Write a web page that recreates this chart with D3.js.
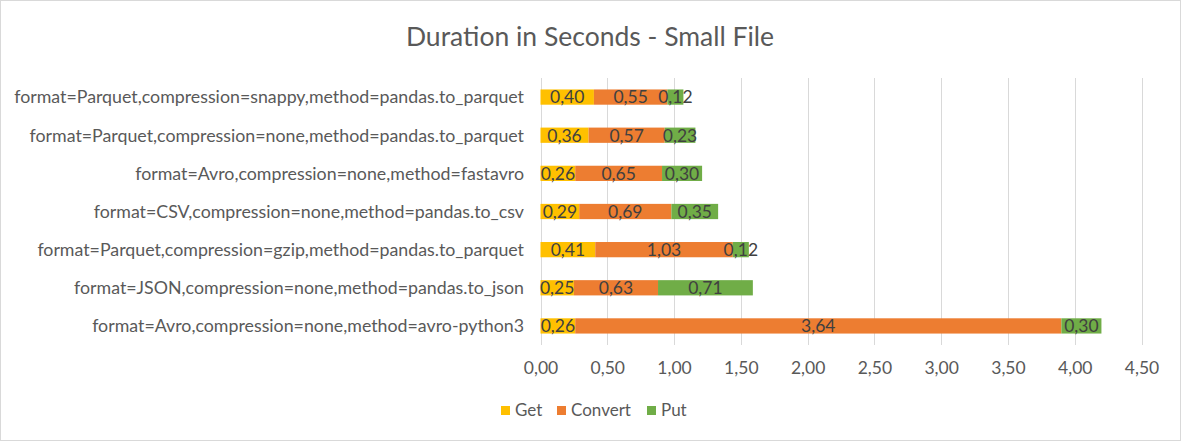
<!DOCTYPE html>
<html><head><meta charset="utf-8">
<script src="https://cdn.jsdelivr.net/npm/d3@7"></script>
<style>html,body{margin:0;padding:0;background:#fff;}svg{display:block;}</style>
</head><body>
<svg id="c" width="1181" height="441"></svg>
<script>
const categories = [
  "format=Parquet,compression=snappy,method=pandas.to_parquet",
  "format=Parquet,compression=none,method=pandas.to_parquet",
  "format=Avro,compression=none,method=fastavro",
  "format=CSV,compression=none,method=pandas.to_csv",
  "format=Parquet,compression=gzip,method=pandas.to_parquet",
  "format=JSON,compression=none,method=pandas.to_json",
  "format=Avro,compression=none,method=avro-python3"
];
const seriesNames = ["Get", "Convert", "Put"];
const getValues = [0.40, 0.36, 0.26, 0.29, 0.41, 0.25, 0.26];
const convertValues = [0.55, 0.57, 0.65, 0.69, 1.03, 0.63, 3.64];
const putValues = [0.12, 0.23, 0.30, 0.35, 0.12, 0.71, 0.30];
const xTicks = [0, 0.5, 1, 1.5, 2, 2.5, 3, 3.5, 4, 4.5];
const title = "Duration in Seconds - Small File";

const colors = ["#FFC000", "#ED7D31", "#70AD47"];
const font = "Lato, 'Open Sans', sans-serif";
const loc = d3.formatLocale({decimal: ",", thousands: ".", grouping: [3], currency: ["", ""]});
const fmt = loc.format(".2f");

const svg = d3.select("#c");
const W = 1181, H = 441;
svg.append("rect").attr("x", 0.5).attr("y", 0.5).attr("width", W - 1).attr("height", H - 1)
  .attr("fill", "#fff").attr("stroke", "#D9D9D9");

const x = d3.scaleLinear().domain([0, 4.5]).range([540.5, 1141.5]);
const y = d3.scaleBand().domain(categories).range([78, 345]).paddingInner(0.6).paddingOuter(0.3);

// gridlines
const g = svg.append("g");
g.selectAll("line.grid").data(xTicks).join("line")
  .attr("x1", d => Math.round(x(d)) + 0.5).attr("x2", d => Math.round(x(d)) + 0.5)
  .attr("y1", 78).attr("y2", 345)
  .attr("stroke", "#D9D9D9").attr("stroke-width", 1);

// x axis labels
const xAxis = d3.axisBottom(x).tickValues(xTicks).tickFormat(fmt).tickSize(0).tickPadding(0);
const xa = svg.append("g").attr("transform", "translate(0,362)").call(xAxis);
xa.select(".domain").remove();
xa.selectAll("text").attr("font-family", font).attr("font-size", 17.5).attr("fill", "#595959");

// y axis labels
const yAxis = d3.axisLeft(y).tickSize(0).tickPadding(0);
const ya = svg.append("g").attr("transform", "translate(524,0)").call(yAxis);
ya.select(".domain").remove();
ya.selectAll("text").attr("font-family", font).attr("font-size", 17.8).attr("fill", "#595959")
  .attr("dy", "0.36em");

// stacked data
const rows = categories.map((c, i) => ({cat: c, Get: getValues[i], Convert: convertValues[i], Put: putValues[i]}));
const stack = d3.stack().keys(seriesNames)(rows);
const layers = svg.append("g").selectAll("g").data(stack).join("g").attr("fill", (d, i) => colors[i]);
const barH = y.bandwidth();
layers.selectAll("rect").data(d => d).join("rect")
  .attr("x", d => x(d[0])).attr("width", d => x(d[1]) - x(d[0]))
  .attr("y", d => y(d.data.cat)).attr("height", barH);

const labels = svg.append("g").selectAll("g").data(stack).join("g");
labels.selectAll("text").data(d => d.map(p => ({p, key: d.key}))).join("text")
  .attr("x", d => (x(d.p[0]) + x(d.p[1])) / 2)
  .attr("y", d => y(d.p.data.cat) + barH / 2)
  .attr("dy", "0.36em")
  .attr("text-anchor", "middle")
  .attr("font-family", font).attr("font-size", 17.5).attr("fill", "#404040")
  .text(d => fmt(d.p.data[d.key]));

// title
svg.append("text").attr("x", 590).attr("y", 46).attr("text-anchor", "middle")
  .attr("font-family", font).attr("font-size", 26.5).attr("fill", "#595959").text(title);

// legend
const legendX = [501, 557, 647];
const lg = svg.append("g").selectAll("g").data(seriesNames).join("g")
  .attr("transform", (d, i) => `translate(${legendX[i]},406)`);
lg.append("rect").attr("width", 9).attr("height", 9).attr("fill", (d, i) => colors[i]);
lg.append("text").attr("x", 14).attr("y", 10)
  .attr("font-family", font).attr("font-size", 17).attr("fill", "#595959").text(d => d);
</script>
</body></html>
